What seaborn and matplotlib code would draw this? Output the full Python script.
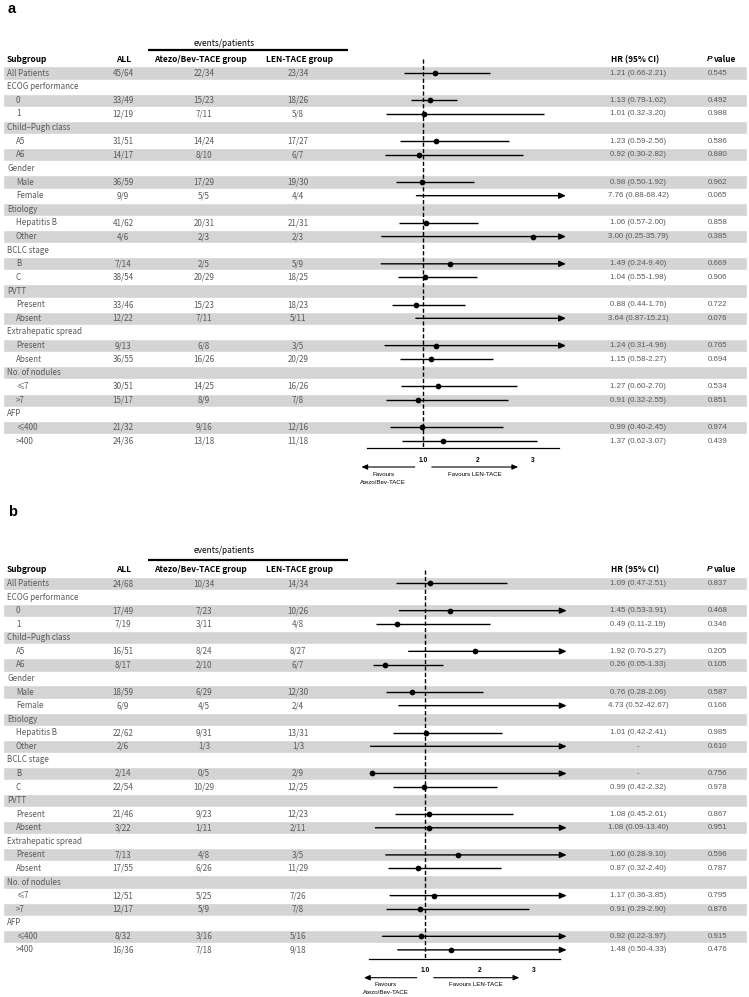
import numpy as np
import pandas as pd
import matplotlib
matplotlib.use("Agg")
import matplotlib.pyplot as plt
import seaborn as sns

sns.set_theme(style="white")
plt.rcParams['font.family'] = ['Noto Sans CJK SC', 'DejaVu Sans']

nan = np.nan
inf = np.inf

# --- table rows (shared by both panels) ---
labels = ["All Patients", "ECOG performance", "0", "1", "Child–Pugh class", "A5", "A6",
          "Gender", "Male", "Female", "Etiology", "Hepatitis B", "Other", "BCLC stage", "B", "C",
          "PVTT", "Present", "Absent", "Extrahepatic spread", "Present", "Absent",
          "No. of nodules", "≤7", ">7", "AFP", "≤400", ">400"]
group_rows = [1, 4, 7, 10, 13, 16, 19, 22, 25]

# --- panel a ---
a_all = ["45/64", "", "33/49", "12/19", "", "31/51", "14/17", "", "36/59", "9/9", "", "41/62", "4/6", "",
         "7/14", "38/54", "", "33/46", "12/22", "", "9/13", "36/55", "", "30/51", "15/17", "", "21/32", "24/36"]
a_atezo = ["22/34", "", "15/23", "7/11", "", "14/24", "8/10", "", "17/29", "5/5", "", "20/31", "2/3", "",
           "2/5", "20/29", "", "15/23", "7/11", "", "6/8", "16/26", "", "14/25", "8/9", "", "9/16", "13/18"]
a_len = ["23/34", "", "18/26", "5/8", "", "17/27", "6/7", "", "19/30", "4/4", "", "21/31", "2/3", "",
         "5/9", "18/25", "", "18/23", "5/11", "", "3/5", "20/29", "", "16/26", "7/8", "", "12/16", "11/18"]
a_hr = [1.21, nan, 1.13, 1.01, nan, 1.23, 0.92, nan, 0.98, 7.76, nan, 1.06, 3.00, nan,
        1.49, 1.04, nan, 0.88, 3.64, nan, 1.24, 1.15, nan, 1.27, 0.91, nan, 0.99, 1.37]
a_lo = [0.66, nan, 0.79, 0.32, nan, 0.59, 0.30, nan, 0.50, 0.88, nan, 0.57, 0.25, nan,
        0.24, 0.55, nan, 0.44, 0.87, nan, 0.31, 0.58, nan, 0.60, 0.32, nan, 0.40, 0.62]
a_hi = [2.21, nan, 1.62, 3.20, nan, 2.56, 2.82, nan, 1.92, 68.42, nan, 2.00, 35.79, nan,
        9.40, 1.98, nan, 1.76, 15.21, nan, 4.96, 2.27, nan, 2.70, 2.55, nan, 2.45, 3.07]
a_hrtxt = ["1.21 (0.66-2.21)", "", "1.13 (0.79-1.62)", "1.01 (0.32-3.20)", "", "1.23 (0.59-2.56)",
           "0.92 (0.30-2.82)", "", "0.98 (0.50-1.92)", "7.76 (0.88-68.42)", "", "1.06 (0.57-2.00)",
           "3.00 (0.25-35.79)", "", "1.49 (0.24-9.40)", "1.04 (0.55-1.98)", "", "0.88 (0.44-1.76)",
           "3.64 (0.87-15.21)", "", "1.24 (0.31-4.96)", "1.15 (0.58-2.27)", "", "1.27 (0.60-2.70)",
           "0.91 (0.32-2.55)", "", "0.99 (0.40-2.45)", "1.37 (0.62-3.07)"]
a_p = ["0.545", "", "0.492", "0.988", "", "0.586", "0.880", "", "0.962", "0.065", "", "0.858", "0.385", "",
       "0.669", "0.906", "", "0.722", "0.076", "", "0.765", "0.694", "", "0.534", "0.851", "", "0.974", "0.439"]

# --- panel b ---
b_all = ["24/68", "", "17/49", "7/19", "", "16/51", "8/17", "", "18/59", "6/9", "", "22/62", "2/6", "",
         "2/14", "22/54", "", "21/46", "3/22", "", "7/13", "17/55", "", "12/51", "12/17", "", "8/32", "16/36"]
b_atezo = ["10/34", "", "7/23", "3/11", "", "8/24", "2/10", "", "6/29", "4/5", "", "9/31", "1/3", "",
           "0/5", "10/29", "", "9/23", "1/11", "", "4/8", "6/26", "", "5/25", "5/9", "", "3/16", "7/18"]
b_len = ["14/34", "", "10/26", "4/8", "", "8/27", "6/7", "", "12/30", "2/4", "", "13/31", "1/3", "",
         "2/9", "12/25", "", "12/23", "2/11", "", "3/5", "11/29", "", "7/26", "7/8", "", "5/16", "9/18"]
b_hr = [1.09, nan, 1.45, 0.49, nan, 1.92, 0.26, nan, 0.76, 4.73, nan, 1.01, nan, nan,
        0.02, 0.99, nan, 1.08, 1.08, nan, 1.60, 0.87, nan, 1.17, 0.91, nan, 0.92, 1.48]
b_lo = [0.47, nan, 0.53, 0.11, nan, 0.70, 0.05, nan, 0.28, 0.52, nan, 0.42, 0.0, nan,
        0.02, 0.42, nan, 0.45, 0.09, nan, 0.28, 0.32, nan, 0.36, 0.29, nan, 0.22, 0.50]
b_hi = [2.51, nan, 3.91, 2.19, nan, 5.27, 1.33, nan, 2.06, 42.67, nan, 2.41, inf, nan,
        inf, 2.32, nan, 2.61, 13.40, nan, 9.10, 2.40, nan, 3.85, 2.90, nan, 3.97, 4.33]
b_hrtxt = ["1.09 (0.47-2.51)", "", "1.45 (0.53-3.91)", "0.49 (0.11-2.19)", "", "1.92 (0.70-5.27)",
           "0.26 (0.05-1.33)", "", "0.76 (0.28-2.06)", "4.73 (0.52-42.67)", "", "1.01 (0.42-2.41)",
           "-", "", "-", "0.99 (0.42-2.32)", "", "1.08 (0.45-2.61)", "1.08 (0.09-13.40)", "",
           "1.60 (0.28-9.10)", "0.87 (0.32-2.40)", "", "1.17 (0.36-3.85)", "0.91 (0.29-2.90)", "",
           "0.92 (0.22-3.97)", "1.48 (0.50-4.33)"]
b_p = ["0.837", "", "0.468", "0.346", "", "0.205", "0.105", "", "0.587", "0.166", "", "0.985", "0.610", "",
       "0.756", "0.978", "", "0.867", "0.951", "", "0.596", "0.787", "", "0.795", "0.876", "", "0.915", "0.476"]

W, H = 749, 997
fig = plt.figure(figsize=(W / 100, H / 100), dpi=100)

BODY = '#5a5a5a'
SHADE = '#d4d4d4'
FS = 5.8


def draw_panel(letter, letter_y, row0, step, axis_px, x_one, ppu, ev_row,
               col_all, col_atezo, col_len, hrtxt, pvals, hr, lo, hi):
    n = len(labels)
    top_row = -3.2
    axis_row = (axis_px - row0) / step
    top_px = row0 + top_row * step
    bottom = 1 - axis_px / H
    height = (axis_px - top_px) / H

    # table axes, x in pixels
    tab = fig.add_axes([0, bottom, 1, height])
    tab.set_xlim(0, W)
    tab.set_ylim(axis_row, top_row)
    tab.axis('off')

    shaded = list(range(0, n, 2))
    tab.barh(shaded, width=744, left=3, height=0.97, color=SHADE, zorder=0)

    for i, lab in enumerate(labels):
        x_lab = 7 if (i in group_rows or i == 0) else 16
        tab.text(x_lab, i, lab, ha='left', va='center', fontsize=FS, color=BODY, weight='light')
        tab.text(123, i, col_all[i], ha='center', va='center', fontsize=FS, color=BODY, weight='light')
        tab.text(204, i, col_atezo[i], ha='center', va='center', fontsize=FS, color=BODY, weight='light')
        tab.text(298, i, col_len[i], ha='center', va='center', fontsize=FS, color=BODY, weight='light')
        tab.text(638, i, hrtxt[i], ha='center', va='center', fontsize=5.7, color=BODY,
                 family='Liberation Sans')
        tab.text(718, i, pvals[i], ha='center', va='center', fontsize=5.7, color=BODY,
                 family='Liberation Sans')

    # headers
    hdr = -1.0
    tab.text(7, hdr, "Subgroup", ha='left', va='center', fontsize=6, weight='bold', color='black')
    tab.text(124, hdr, "ALL", ha='center', va='center', fontsize=6, weight='bold', color='black')
    tab.text(200, hdr, "Atezo/Bev-TACE group", ha='center', va='center', fontsize=6, weight='bold', color='black')
    tab.text(300, hdr, "LEN-TACE group", ha='center', va='center', fontsize=6, weight='bold', color='black')
    tab.text(635, hdr, "HR (95% CI)", ha='center', va='center', fontsize=6, weight='bold', color='black')
    tab.text(712, hdr, "P", ha='right', va='center', fontsize=6, weight='bold', style='italic',
             color='black', family='Liberation Sans')
    tab.text(714, hdr, "value", ha='left', va='center', fontsize=6, weight='bold', color='black')
    tab.plot([148, 348], [-1.72, -1.72], color='black', lw=1.6, solid_capstyle='butt')
    tab.text(224, ev_row, "events/patients", ha='center', va='center', fontsize=6, color='black')

    # forest axes, x in HR units
    xmin, xmax = -0.02, 3.48
    left_px = x_one + (xmin - 1) * ppu
    fax = fig.add_axes([left_px / W, bottom, (xmax - xmin) * ppu / W, height])
    fax.patch.set_alpha(0)
    fax.set_xlim(xmin, xmax)
    fax.set_ylim(axis_row, top_row)
    for s in ['top', 'left', 'right']:
        fax.spines[s].set_visible(False)
    fax.spines['bottom'].set_color('black')
    fax.spines['bottom'].set_linewidth(0.9)
    fax.set_yticks([])
    fax.set_xticks([1, 2, 3])
    fax.set_xticklabels(['1.0', '2', '3'], fontsize=4.8, weight='bold', family='Liberation Sans')
    fax.tick_params(axis='x', length=0, pad=6, colors='black')
    fax.grid(False)

    fax.vlines(1, -1.0, axis_row, colors='black', linestyles=(0, (3, 1.6)), lw=1.0, zorder=2)

    df = pd.DataFrame({'row': np.arange(n), 'hr': hr, 'lo': lo, 'hi': hi})
    ci = df.dropna(subset=['lo'])
    inside = ci[ci['hi'] <= xmax]
    fax.hlines(inside['row'], inside['lo'], inside['hi'], colors='black', lw=1.0, zorder=3)
    for _, r in ci[ci['hi'] > xmax].iterrows():
        fax.annotate('', xy=(3.6, r['row']), xytext=(r['lo'], r['row']),
                     arrowprops=dict(arrowstyle='-|>,head_length=0.5,head_width=0.22', color='black',
                                     lw=1.0, shrinkA=0, shrinkB=0, mutation_scale=8),
                     annotation_clip=False, zorder=3)
    pts = df[(df['hr'] <= xmax)]
    sns.scatterplot(data=pts, x='hr', y='row', ax=fax, color='black', s=17, linewidth=0,
                    legend=False, zorder=4)
    fax.set_xlabel('')
    fax.set_ylabel('')

    # favours arrows
    arow = axis_row + 18.7 / step
    for x0, x1 in [(0.85, -0.12), (1.16, 2.73)]:
        fax.annotate('', xy=(x1, arow), xytext=(x0, arow),
                     arrowprops=dict(arrowstyle='-|>,head_length=0.5,head_width=0.22', color='black',
                                     lw=0.8, shrinkA=0, shrinkB=0, mutation_scale=7),
                     annotation_clip=False)
    fax.text(0.28, axis_row + 25.8 / step, "Favours", ha='center', va='center', fontsize=4.4,
             family='Liberation Sans', color='black', clip_on=False)
    fax.text(0.28, axis_row + 33.8 / step, "Atezo/Bev-TACE", ha='center', va='center', fontsize=4.4,
             family='Liberation Sans', color='black', clip_on=False)
    fax.text(1.94, axis_row + 25.8 / step, "Favours LEN-TACE", ha='center', va='center', fontsize=4.4,
             family='Liberation Sans', color='black', clip_on=False)

    fig.text(8 / W, 1 - letter_y / H, letter, ha='left', va='center', fontsize=10.5, weight='bold',
             family='Liberation Sans', color='black')


draw_panel('a', 9, 73.0, 13.63, 448.3, 423, 55.0, -2.2,
           a_all, a_atezo, a_len, a_hrtxt, a_p, a_hr, a_lo, a_hi)
draw_panel('b', 512, 583.5, 13.57, 959.0, 425, 54.5, -2.4,
           b_all, b_atezo, b_len, b_hrtxt, b_p, b_hr, b_lo, b_hi)

fig.savefig('out.png', dpi=100)
